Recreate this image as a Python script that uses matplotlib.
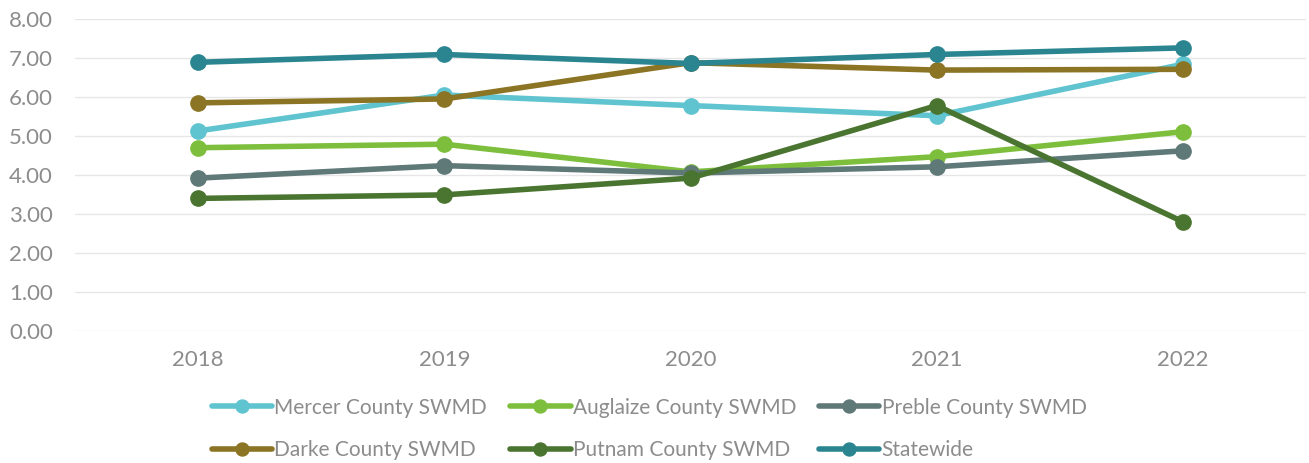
import matplotlib.pyplot as plt
from matplotlib.ticker import FormatStrFormatter

plt.rcParams['font.family'] = ['Lato', 'DejaVu Sans']

years = ['2018', '2019', '2020', '2021', '2022']
mercer = [5.13, 6.05, 5.78, 5.52, 6.84]
auglaize = [4.70, 4.79, 4.08, 4.47, 5.11]
preble = [3.92, 4.24, 4.05, 4.21, 4.62]
darke = [5.85, 5.95, 6.88, 6.69, 6.71]
putnam = [3.40, 3.49, 3.92, 5.78, 2.80]
statewide = [6.89, 7.09, 6.86, 7.09, 7.26]

series = [
    ('Mercer County SWMD', mercer, '#5fc4cf'),
    ('Auglaize County SWMD', auglaize, '#7dbf3c'),
    ('Preble County SWMD', preble, '#5f7878'),
    ('Darke County SWMD', darke, '#8b7424'),
    ('Putnam County SWMD', putnam, '#4a7530'),
    ('Statewide', statewide, '#2a8590'),
]

fig = plt.figure(figsize=(13.09, 4.63), dpi=100)
ax = fig.add_axes([75/1309, 1-331/463, (1306-75)/1309, (331-19)/463])

x = range(len(years))
for name, vals, col in series:
    ax.plot(x, vals, '-o', color=col, lw=4, ms=11, label=name,
            solid_capstyle='round')

ax.set_xlim(-0.5, len(years)-0.5)
ax.set_ylim(0, 8)
ax.set_yticks(range(0, 9))
ax.yaxis.set_major_formatter(FormatStrFormatter('%.2f'))
ax.set_xticks(list(x))
ax.set_xticklabels(years)
ax.grid(axis='y', color='#e6e6e6', lw=1)
ax.set_axisbelow(True)
for s in ax.spines.values():
    s.set_visible(False)
ax.tick_params(length=0, labelsize=16, colors='#8c8c8c')
ax.tick_params(axis='y', pad=16)
ax.tick_params(axis='x', pad=14)

# legend fills column by column, so reorder to get row-wise layout
handles, labels = ax.get_legend_handles_labels()
order = [0, 3, 1, 4, 2, 5]
leg = fig.legend([handles[i] for i in order], [labels[i] for i in order],
                 loc='center', bbox_to_anchor=(0.496, 1-429/463),
                 ncol=3, frameon=False, fontsize=15, handlelength=2.9,
                 markerscale=0.85, handletextpad=0.1, columnspacing=1.1,
                 labelspacing=1.1, labelcolor='#8c8c8c')

fig.savefig('out.png', dpi=100)
